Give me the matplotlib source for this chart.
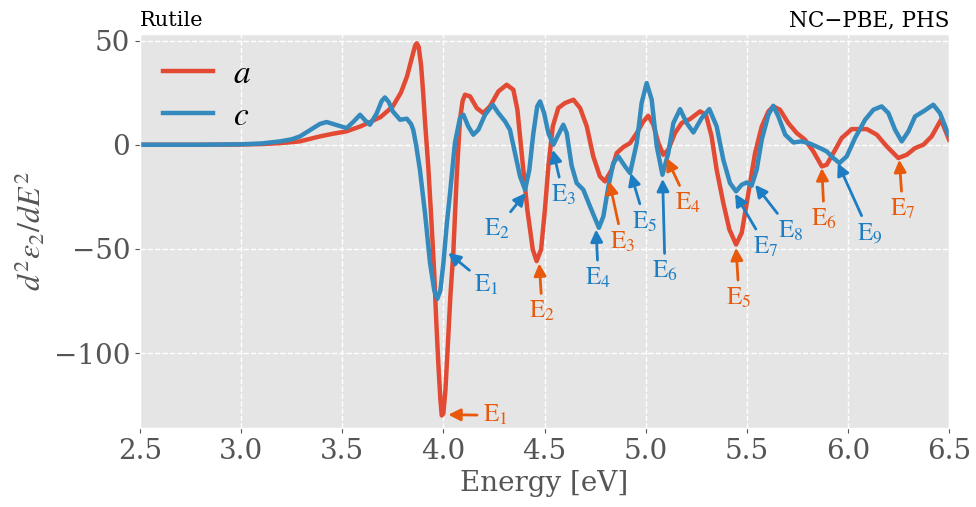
import matplotlib
matplotlib.use("Agg")
import matplotlib.pyplot as plt

plt.style.use("ggplot")
plt.rcParams["font.family"] = "DejaVu Serif"
plt.rcParams["mathtext.fontset"] = "stix"

# curve a (red)
energy_a = [2.5, 2.8, 3.0, 3.1, 3.2, 3.29, 3.39, 3.45, 3.52, 3.59, 3.64, 3.69, 3.75,
            3.79, 3.82, 3.845, 3.86, 3.868, 3.878, 3.89, 3.90, 3.91, 3.925, 3.94,
            3.955, 3.965, 3.975, 3.985, 3.992, 4.0, 4.01, 4.02, 4.035, 4.049, 4.066,
            4.082, 4.095, 4.107, 4.132, 4.165, 4.197, 4.230, 4.272, 4.313, 4.346,
            4.366, 4.387, 4.415, 4.442, 4.461, 4.483, 4.502, 4.519, 4.541, 4.568,
            4.601, 4.643, 4.676, 4.709, 4.741, 4.774, 4.799, 4.832, 4.857, 4.890,
            4.923, 4.956, 4.989, 5.013, 5.038, 5.063, 5.087, 5.112, 5.145, 5.178,
            5.219, 5.269, 5.298, 5.326, 5.351, 5.384, 5.414, 5.447, 5.475, 5.508,
            5.541, 5.574, 5.607, 5.631, 5.664, 5.705, 5.747, 5.788, 5.829, 5.871,
            5.895, 5.928, 5.969, 6.019, 6.093, 6.143, 6.192, 6.249, 6.291, 6.332,
            6.373, 6.414, 6.46, 6.5]
d2eps_a = [0, 0, 0.1, 0.3, 0.8, 1.6, 4, 5.2, 6.4, 8.8, 11, 13.3, 18.4,
           25, 32.7, 42, 47.5, 48.7, 47, 38, 25, 10, -10, -35,
           -62, -85, -105, -122, -130, -129, -118, -100, -72, -52, -15.2,
           12, 21, 24, 23.2, 17.6, 15.2, 18.4, 25.6, 28.8, 26.4,
           16.8, -4, -31.2, -50.3, -55.9, -50.3, -31.2, -10.4, 8.8, 17.6,
           20, 21.6, 17.6, 8.8, -5.6, -15.2, -17.6, -12, -4, -1.1,
           0.8, 5.6, 11.2, 13.9, 9.6, 0.8, -4.8, -2.4, 5.6, 10.4,
           12.3, 16, 14.4, 4, -12, -28, -40.7, -47.9, -42.3, -23.2,
           -4, 8.8, 16, 18.4, 16.8, 10.4, 5.6, 2.4, -3.2, -10.4,
           -9.6, -4, 3.2, 7.5, 7.5, 4.8, -0.8, -6.4, -4.8, -1.6,
           0, 4, 12, 2.4]

# curve c (blue)
energy_c = [2.5, 2.8, 3.0, 3.1, 3.192, 3.25, 3.291, 3.357, 3.39, 3.423, 3.47, 3.522,
            3.555, 3.588, 3.615, 3.637, 3.67, 3.695, 3.711, 3.73, 3.75, 3.786, 3.819,
            3.84, 3.851, 3.865, 3.884, 3.909, 3.934, 3.955, 3.97, 3.985, 4.0, 4.017,
            4.033, 4.057, 4.082, 4.099, 4.123, 4.148, 4.173, 4.206, 4.244, 4.272,
            4.305, 4.329, 4.354, 4.379, 4.404, 4.425, 4.445, 4.464, 4.478, 4.498,
            4.519, 4.544, 4.568, 4.593, 4.610, 4.634, 4.659, 4.692, 4.725, 4.769,
            4.791, 4.816, 4.840, 4.865, 4.898, 4.923, 4.956, 4.980, 5.005, 5.030,
            5.055, 5.083, 5.112, 5.137, 5.170, 5.203, 5.236, 5.277, 5.315, 5.351,
            5.384, 5.417, 5.447, 5.475, 5.5, 5.524, 5.549, 5.574, 5.607, 5.631,
            5.656, 5.690, 5.730, 5.772, 5.813, 5.862, 5.895, 5.928, 5.958, 5.994,
            6.035, 6.085, 6.126, 6.167, 6.200, 6.233, 6.266, 6.299, 6.332, 6.373,
            6.422, 6.455, 6.497]
d2eps_c = [0, 0, 0.2, 0.6, 1.6, 2.6, 4, 8, 10, 10.9, 9.5, 8,
           11, 14.4, 11.5, 9.6, 15, 21, 22.7, 20.5, 16, 12, 12.5,
           10, 7.2, 0, -12, -32.7, -56.7, -70, -74, -70, -57, -38,
           -23.2, 0.8, 12.8, 14.4, 8.8, 4.8, 7.2, 14.4, 19.2, 15.2,
           11.2, 7.2, -4, -15.2, -21.6, -12, 5.6, 18.4, 20.8, 15.2,
           5.6, 0, 4.8, 9.6, 5.6, -10, -18.4, -21.6, -29.6, -39.9,
           -34.4, -20, -8.8, -5.6, -10.4, -13.6, 0.8, 20, 29.6, 21.6,
           -0.8, -14.4, -4, 10.4, 17.1, 10.4, 5.9, 12.8, 17.1, 8.8,
           -7.2, -18.4, -22.4, -19.2, -18.1, -19.7, -12, 2.4, 14.4, 18.7,
           13.6, 4.8, 1.1, 1.6, 0.5, -1.6, -3.2, -6.4, -8.8, -5.6,
           3.2, 12, 16.8, 18.4, 15.2, 7.2, 1.6, 6.4, 13.6, 16,
           19.2, 15.2, 4.8]

# annotations: label, arrow tip (x, y), text position (x, y)
labels_a = ["1", "2", "3", "4", "5", "6", "7"]
tips_a = [(4.024, -129.6), (4.474, -57.0), (4.820, -17.6), (5.104, -6.4),
          (5.447, -49.5), (5.871, -11.2), (6.254, -7.2)]
texts_a = [(4.255, -129.9), (4.489, -79.9), (4.885, -46.4), (5.208, -27.9),
           (5.462, -73.5), (5.883, -35.6), (6.271, -30.8)]

labels_c = ["1", "2", "3", "4", "5", "6", "7", "8", "9"]
tips_c = [(4.024, -51.9), (4.407, -23.2), (4.541, -2.4), (4.755, -40.7),
          (4.926, -13.6), (5.084, -16.4), (5.442, -23.5), (5.541, -19.2),
          (5.95, -8.8)]
texts_c = [(4.214, -67.1), (4.264, -40.4), (4.593, -24.0), (4.766, -63.9),
           (4.997, -36.8), (5.096, -60.7), (5.595, -48.8), (5.717, -41.2),
           (6.106, -42.3)]

fig = plt.figure(figsize=(9.76, 5.07), dpi=100)
ax = fig.add_axes([0.1434, 0.1558, 0.829, 0.7765])

ax.plot(energy_a, d2eps_a, color="#E24A33", lw=3.2, label=r"$a$")
ax.plot(energy_c, d2eps_c, color="#348ABD", lw=3.2, label=r"$c$")

col_a = "#E8590C"
col_c = "#1C7DC2"
for lab, tip, txt in zip(labels_a, tips_a, texts_a):
    ax.annotate(r"$\mathrm{E}_{%s}$" % lab, xy=tip, xytext=txt, ha="center", va="center",
                color=col_a, fontsize=18,
                arrowprops=dict(arrowstyle="-|>", color=col_a, lw=2, shrinkA=2, shrinkB=0))
for lab, tip, txt in zip(labels_c, tips_c, texts_c):
    ax.annotate(r"$\mathrm{E}_{%s}$" % lab, xy=tip, xytext=txt, ha="center", va="center",
                color=col_c, fontsize=18,
                arrowprops=dict(arrowstyle="-|>", color=col_c, lw=2, shrinkA=2, shrinkB=0))

ax.set_xlim(2.5, 6.5)
ax.set_ylim(-136, 53)
ax.set_xticks([2.5, 3.0, 3.5, 4.0, 4.5, 5.0, 5.5, 6.0, 6.5])
ax.set_yticks([50, 0, -50, -100])
ax.grid(True, linestyle="--", color="white", lw=1)
ax.tick_params(labelsize=20)
ax.set_xlabel("Energy [eV]", fontsize=20)
ax.set_ylabel(r"$d^2\varepsilon_2/dE^2$", fontsize=23)
ax.set_title("Rutile", loc="left", fontsize=15)
ax.set_title("NC\u2212PBE, PHS", loc="right", fontsize=15.5)
ax.legend(loc="upper left", fontsize=24, frameon=False, handlelength=1.5,
          handletextpad=0.6, labelspacing=0.3, borderaxespad=0.3)

fig.savefig("out.png", dpi=100)
